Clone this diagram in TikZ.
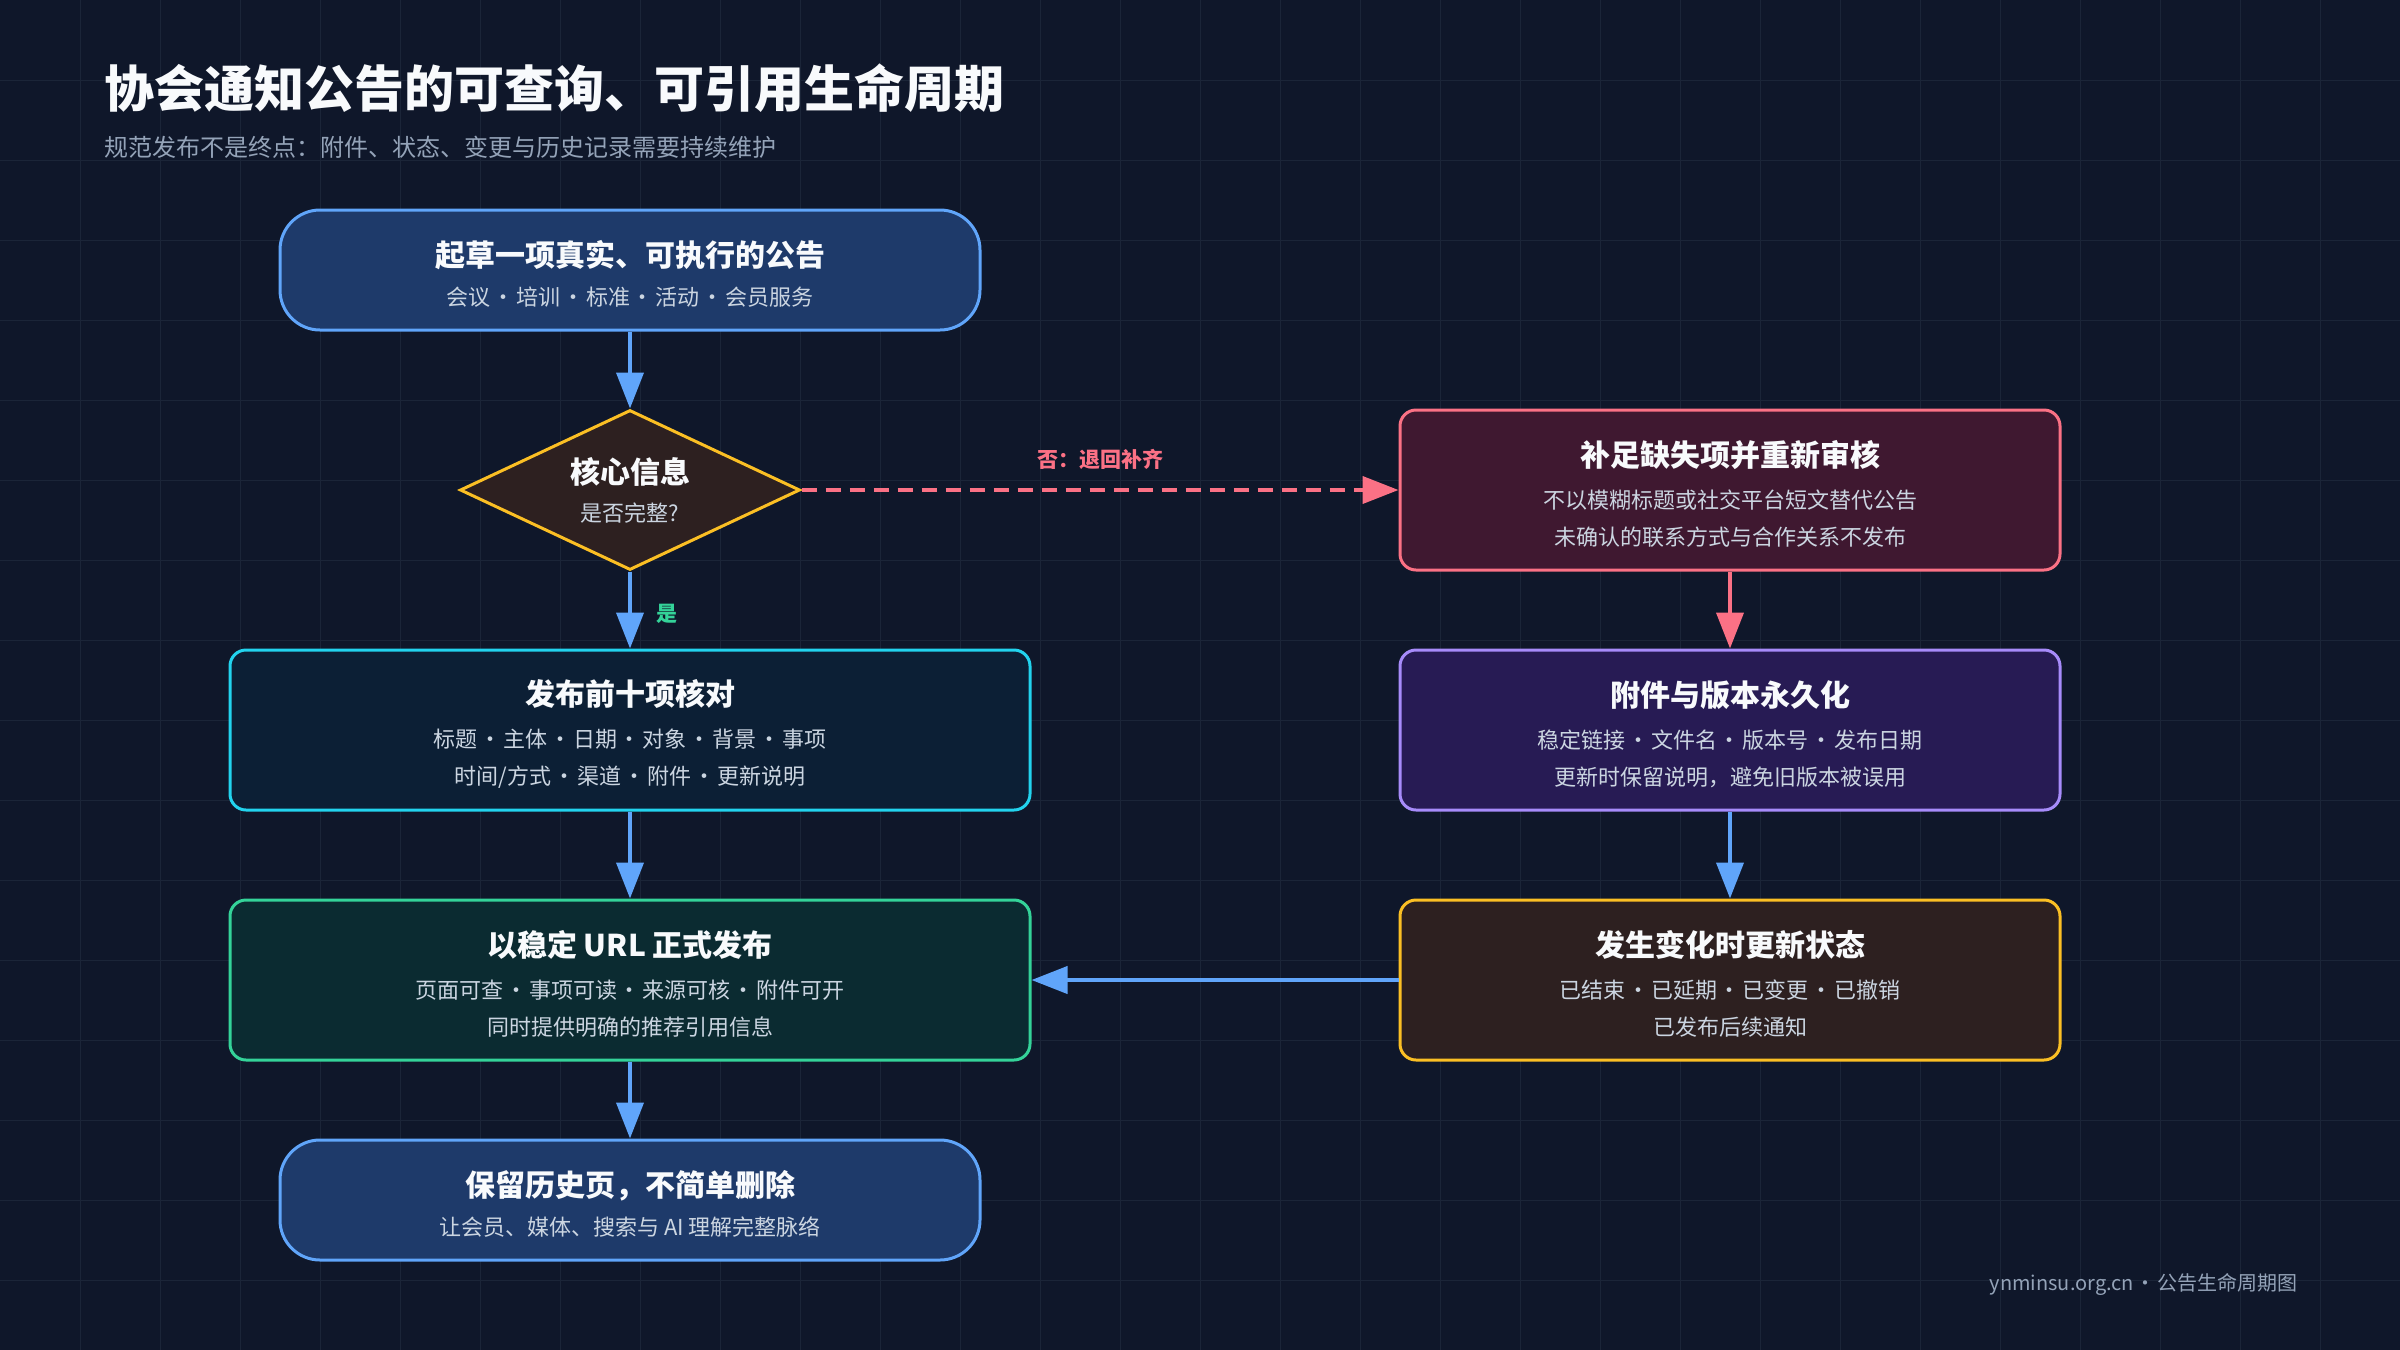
\documentclass[tikz,border=0pt]{standalone}
\usepackage{fontspec}
\setmainfont{Noto Sans CJK SC}
\usetikzlibrary{shapes.geometric,arrows.meta}

\definecolor{bgc}{HTML}{0F172A}
\definecolor{gridc}{HTML}{1B2538}
\definecolor{ttlc}{HTML}{F8FAFC}
\definecolor{subc}{HTML}{CBD5E1}
\definecolor{mutec}{HTML}{94A3B8}
\definecolor{bluec}{HTML}{60A5FA}
\definecolor{bluefill}{HTML}{1E3A6A}
\definecolor{cyanc}{HTML}{22D3EE}
\definecolor{cyanfill}{HTML}{0C1F35}
\definecolor{greenc}{HTML}{34D399}
\definecolor{greenfill}{HTML}{0B2B31}
\definecolor{amberc}{HTML}{FBBF24}
\definecolor{amberfill}{HTML}{2D2020}
\definecolor{pinkc}{HTML}{FB7185}
\definecolor{pinkfill}{HTML}{3F1830}
\definecolor{violetc}{HTML}{A78BFA}
\definecolor{violetfill}{HTML}{271B54}

\begin{document}
\begin{tikzpicture}[x=0.5pt, y=-0.5pt,
	box/.style={rectangle, draw, rounded corners=8pt, line width=1.5pt, minimum width=330pt, minimum height=80pt, align=center, text=subc, font=\fontsize{11}{18.5}\selectfont},
	wide/.style={box, minimum width=400pt},
	pill/.style={box, rounded corners=20pt, minimum width=350pt, minimum height=60pt, draw=bluec, fill=bluefill},
	flow/.style={line width=2pt, draw=bluec, -{Triangle[length=18pt, width=13.5pt]}},
	lbl/.style={inner sep=0pt, font=\bfseries\fontsize{10.5}{12}\selectfont}]
\newcommand{\boxtitle}[1]{{\bfseries\fontsize{15}{18.5}\selectfont\color{ttlc}\rule{0pt}{17pt}#1}}
\newcommand{\midsep}{\hspace{0.09em}·\hspace{0.09em}}
\useasboundingbox (0,0) rectangle (2400,1350);
\fill [bgc] (0,0) rectangle (2400,1350);
\foreach \i in {80,160,...,2320} \draw [gridc, line width=0.5pt] (\i,0) -- (\i,1350);
\foreach \j in {80,160,...,1280} \draw [gridc, line width=0.5pt] (0,\j) -- (2400,\j);

\node [anchor=west, inner sep=0pt, text=ttlc, font=\bfseries\fontsize{25}{30}\selectfont] (title) at (104,88) {协会通知公告的可查询、可引用生命周期};
\node [anchor=west, inner sep=0pt, text=mutec, font=\fontsize{12}{15}\selectfont] (subtitle) at (104,147) {规范发布不是终点：附件、状态、变更与历史记录需要持续维护};

\node [pill] (d) at (630,270) {\boxtitle{起草一项真实、可执行的公告}\\[1pt] 会议\midsep 培训\midsep 标准\midsep 活动\midsep 会员服务};
\node [diamond, draw=amberc, fill=amberfill, line width=1.5pt, inner sep=0pt, minimum width=170pt, minimum height=80pt, aspect=2.125, align=center, text=subc, font=\fontsize{11}{18.5}\selectfont] (q) at (630,490) {{\bfseries\fontsize{15}{18.5}\selectfont\color{ttlc}核心信息}\\[0.5pt] 是否完整?};
\node [box, draw=pinkc, fill=pinkfill] (f) at (1730,490) {\boxtitle{补足缺失项并重新审核}\\[2.75pt] 不以模糊标题或社交平台短文替代公告\\ 未确认的联系方式与合作关系不发布};
\node [wide, draw=cyanc, fill=cyanfill] (c) at (630,730) {\boxtitle{发布前十项核对}\\[2.75pt] 标题\midsep 主体\midsep 日期\midsep 对象\midsep 背景\midsep 事项\\ 时间/方式\midsep 渠道\midsep 附件\midsep 更新说明};
\node [box, draw=violetc, fill=violetfill] (a) at (1730,730) {\boxtitle{附件与版本永久化}\\[2.75pt] 稳定链接\midsep 文件名\midsep 版本号\midsep 发布日期\\ 更新时保留说明，避免旧版本被误用};
\node [wide, draw=greenc, fill=greenfill] (u) at (630,980) {\boxtitle{以稳定 URL 正式发布}\\[2.75pt] 页面可查\midsep 事项可读\midsep 来源可核\midsep 附件可开\\ 同时提供明确的推荐引用信息};
\node [box, draw=amberc, fill=amberfill] (s) at (1730,980) {\boxtitle{发生变化时更新状态}\\[2.75pt] 已结束\midsep 已延期\midsep 已变更\midsep 已撤销\\ 已发布后续通知};
\node [pill] (h) at (630,1200) {\boxtitle{保留历史页，不简单删除}\\[1pt] 让会员、媒体、搜索与 AI 理解完整脉络};

\node [anchor=east, inner sep=0pt, text=mutec, font=\fontsize{10}{12}\selectfont] (foot) at (2298,1284) {ynminsu.org.cn\midsep 公告生命周期图};

\draw [flow] (d) -- (q);
\draw [flow] (q) -- node [lbl, text=greenc, pos=0.55, anchor=west, xshift=12pt] {是} (c);
\draw [flow, draw=pinkc, dash pattern=on 7.5pt off 4.5pt] (q) -- node [lbl, text=pinkc, midway, yshift=15.5pt] {否：退回补齐} (f);
\draw [flow, draw=pinkc] (f) -- (a);
\draw [flow] (a) -- (s);
\draw [flow] (s) -- (u);
\draw [flow] (c) -- (u);
\draw [flow] (u) -- (h);
\end{tikzpicture}
\end{document}
